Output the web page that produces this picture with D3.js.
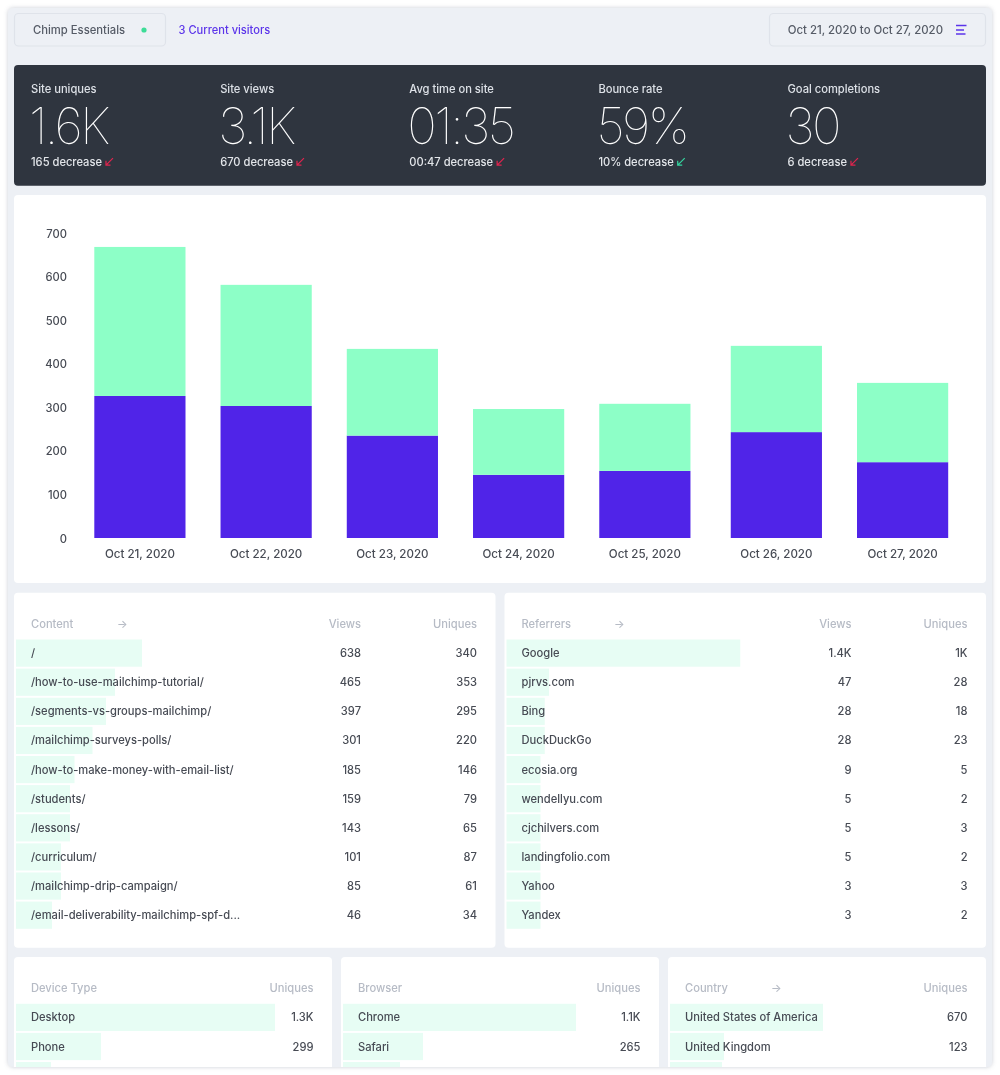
<!DOCTYPE html>
<html><head><meta charset="utf-8">
<script src="https://cdn.jsdelivr.net/npm/d3@7"></script>
<style>
html,body{margin:0;padding:0;background:#fff;width:1000px;height:1075px;overflow:hidden}
svg{display:block;font-family:Inter,"Noto Sans",sans-serif;filter:blur(.45px)}
</style></head><body><svg id="c" width="1000" height="1075"></svg>
<script>
// ---- data ----
const days = ["Oct 21, 2020","Oct 22, 2020","Oct 23, 2020","Oct 24, 2020","Oct 25, 2020","Oct 26, 2020","Oct 27, 2020"];
// day starts as instants: the reporting calendar falls back an hour on Oct 25
const dayStarts = ["2020-10-20T23:00Z","2020-10-21T23:00Z","2020-10-22T23:00Z","2020-10-23T23:00Z","2020-10-24T23:00Z","2020-10-26T00:00Z","2020-10-27T00:00Z"];
const uniques = [326,303,235,145,154,243,174];
const repeatViews = [342,278,199,151,154,198,182];
const yTicks = [0,100,200,300,400,500,600,700];

const kpiLabels = ["Site uniques","Site views","Avg time on site","Bounce rate","Goal completions"];
const kpiValues = ["1.6K","3.1K","01:35","59%","30"];
const kpiDeltas = ["165 decrease","670 decrease","00:47 decrease","10% decrease","6 decrease"];
const kpiGood = [false,false,false,true,false];

const contentNames = ["/","/how-to-use-mailchimp-tutorial/","/segments-vs-groups-mailchimp/","/mailchimp-surveys-polls/","/how-to-make-money-with-email-list/","/students/","/lessons/","/curriculum/","/mailchimp-drip-campaign/","/email-deliverability-mailchimp-spf-d..."];
const contentViews = [638,465,397,301,185,159,143,101,85,46];
const contentUniques = [340,353,295,220,146,79,65,87,61,34];

const refNames = ["Google","pjrvs.com","Bing","DuckDuckGo","ecosia.org","wendellyu.com","cjchilvers.com","landingfolio.com","Yahoo","Yandex"];
const refViews = [1400,47,28,28,9,5,5,5,3,3];
const refViewLabels = ["1.4K","47","28","28","9","5","5","5","3","3"];
const refUniqueLabels = ["1K","28","18","23","5","2","3","2","3","2"];

const deviceNames = ["Desktop","Phone",""];
const deviceUniques = [1300,299,13];
const deviceLabels = ["1.3K","299",""];
const browserNames = ["Chrome","Safari",""];
const browserUniques = [1100,265,137];
const browserLabels = ["1.1K","265",""];
const countryNames = ["United States of America","United Kingdom",""];
const countryUniques = [670,123,109];
const countryLabels = ["670","123",""];

// ---- palette ----
const C = {frame:"#edf0f5",dark:"#2f353f",mint:"#8dffc7",violet:"#5024e8",rowBar:"#e7fdf4",
  head:"#b6bbc5",text:"#474b54",accent:"#5b34ea",red:"#e0244e",green:"#35d6a0"};

const svg = d3.select("#c");
const defs = svg.append("defs");
defs.append("clipPath").attr("id","frameClip").append("rect")
  .attr("x",8).attr("y",8).attr("width",984).attr("height",1059).attr("rx",5);
const sh = defs.append("filter").attr("id","sh").attr("x","-5%").attr("y","-5%").attr("width","110%").attr("height","110%");
sh.append("feDropShadow").attr("dx",0).attr("dy",0).attr("stdDeviation",2).attr("flood-color","#8b93a3").attr("flood-opacity",.45);

svg.append("rect").attr("x",8).attr("y",8).attr("width",984).attr("height",1059).attr("rx",5)
  .attr("fill",C.frame).attr("filter","url(#sh)");
const root = svg.append("g").attr("clip-path","url(#frameClip)");

function txt(g,x,y,s,o={}){
  return g.append("text").attr("x",x).attr("y",y).attr("dy","0.35em").text(s)
    .attr("font-size",o.size||11.15).attr("fill",o.fill||C.text).attr("font-weight",o.weight||450)
    .attr("text-anchor",o.anchor||"start");
}
function panel(x,y,w,h,fill){
  root.append("rect").attr("x",x).attr("y",y).attr("width",w).attr("height",h).attr("rx",4).attr("fill",fill||"#fff");
}

// ---- top bar ----
for (const [x,w] of [[14.5,151],[769.5,216]]) {
  root.append("rect").attr("x",x).attr("y",13.5).attr("width",w).attr("height",32.5).attr("rx",4)
    .attr("fill",C.frame).attr("stroke","#dfe3ea").attr("stroke-width",1.2);
}
txt(root,33,30,"Chimp Essentials",{fill:"#555b66",size:11.25});
root.append("circle").attr("cx",144).attr("cy",30).attr("r",2.6).attr("fill","#3ddc97");
txt(root,178.5,30,"3 Current visitors",{fill:C.accent,size:11.1});
txt(root,943,30,"Oct 21, 2020 to Oct 27, 2020",{fill:"#555b66",anchor:"end",size:11.4});
[[25.5,10.5],[30,8],[34,9.5]].forEach(([y,w])=>root.append("line").attr("x1",956).attr("x2",956+w)
  .attr("y1",y).attr("y2",y).attr("stroke",C.accent).attr("stroke-width",1.5));

// ---- KPI band ----
panel(14,65,972,120.7,C.dark);
const kpiX = d3.scalePoint().domain(d3.range(5)).range([31,787.5]);
kpiLabels.forEach((l,i)=>{
  const x = kpiX(i);
  txt(root,x,89.3,l,{fill:"#dde1e7"});
  root.append("text").attr("x",x-2).attr("y",144).text(kpiValues[i]).attr("font-size",50).attr("font-weight",100)
    .attr("fill","#fff").attr("letter-spacing",-2.5);
  const t = txt(root,x,161.9,kpiDeltas[i],{fill:"#e3e6ea",weight:500});
  const ax = x + t.node().getComputedTextLength() + 4, ay = 161.7;
  root.append("path").attr("d",`M${ax+7},${ay-3.5}L${ax},${ay+3.5}M${ax},${ay-1}V${ay+3.5}H${ax+4.5}`)
    .attr("fill","none").attr("stroke",kpiGood[i]?C.green:C.red).attr("stroke-width",1.2);
});

// ---- stacked bars ----
panel(14,195,972,388);
const dates = dayStarts.map(s=>new Date(s));
const rows = days.map((d,i)=>({day:d,date:dates[i],uniques:uniques[i],repeat:repeatViews[i]}));
const barW = 91.2;
const x = d3.scaleUtc().domain(d3.extent(dates)).range([139.9,902.6]);
const y = d3.scaleLinear().domain([0,700]).range([538,233]);
const stack = d3.stack().keys(["uniques","repeat"])(rows);
const colour = d3.scaleOrdinal().domain(["uniques","repeat"]).range([C.violet,C.mint]);
root.append("g").selectAll("g").data(stack).join("g").attr("fill",d=>colour(d.key))
  .selectAll("rect").data(d=>d).join("rect")
  .attr("x",d=>x(d.data.date)-barW/2).attr("width",barW)
  .attr("y",d=>y(d[1])).attr("height",d=>y(d[0])-y(d[1]));
const gy = root.append("g").attr("transform","translate(67,0.5)")
  .call(d3.axisLeft(y).tickValues(yTicks).tickSize(0).tickPadding(0));
const gx = root.append("g").attr("transform","translate(-0.5,538)")
  .call(d3.axisBottom(x).tickValues(dates).tickFormat((d,i)=>days[i]).tickSize(0).tickPadding(11.5));
[gy,gx].forEach(g=>{g.attr("font-family",null).attr("font-size",null);
  g.select(".domain").remove();
  g.selectAll("text").attr("font-size",g===gy?11.2:11.55).attr("font-weight",450).attr("fill",C.text);});

// ---- tables ----
function table(o){
  panel(o.x,o.y,o.w,o.h);
  const hy = o.y+31.1;
  txt(root,o.textX,hy,o.title,{fill:C.head});
  if(o.arrowX) txt(root,o.arrowX,hy,"→",{fill:C.head});
  o.cols.forEach(c=>txt(root,c.right,hy,c.title,{fill:C.head,anchor:"end"}));
  const w = d3.scaleLinear().domain([0,d3.max(o.values)]).range(o.range);
  const snap = v=>Math.round(w(v)/o.step)*o.step;
  const g = root.append("g");
  const first = o.y+46.8, pitch = 29.12;
  g.selectAll("rect").data(o.values).join("rect")
    .attr("x",o.x+2).attr("y",(d,i)=>first+i*pitch).attr("height",27.2)
    .attr("width",d=>snap(d)).attr("fill",C.rowBar);
  o.names.forEach((n,i)=>{
    const cy = first+i*pitch+13.7;
    if(n) txt(root,o.textX,cy,n);
    o.cols.forEach(c=>{ if(c.labels[i]!=="") txt(root,c.right,cy,c.labels[i],{anchor:"end"}); });
  });
}
table({x:14,y:592.7,w:481.5,h:355,textX:31,arrowX:117,title:"Content",names:contentNames,values:contentViews,
  range:[31,126],step:4.5,cols:[{title:"Views",right:361,labels:contentViews.map(String)},{title:"Uniques",right:477,labels:contentUniques.map(String)}]});
table({x:504.5,y:592.7,w:481.5,h:355,textX:521.5,arrowX:614,title:"Referrers",names:refNames,values:refViews,
  range:[34.5,233.7],step:4.25,cols:[{title:"Views",right:851.5,labels:refViewLabels},{title:"Uniques",right:967.5,labels:refUniqueLabels}]});
table({x:14,y:957,w:318,h:130,textX:31,title:"Device Type",names:deviceNames,values:deviceUniques,
  range:[33,258.7],step:1,cols:[{title:"Uniques",right:313.5,labels:deviceLabels}]});
table({x:341,y:957,w:318,h:130,textX:358,title:"Browser",names:browserNames,values:browserUniques,
  range:[32,233],step:1,cols:[{title:"Uniques",right:640.5,labels:browserLabels}]});
table({x:668,y:957,w:318,h:130,textX:685,arrowX:771,title:"Country",names:countryNames,values:countryUniques,
  range:[32,153.3],step:1,cols:[{title:"Uniques",right:967.5,labels:countryLabels}]});
</script></body></html>
